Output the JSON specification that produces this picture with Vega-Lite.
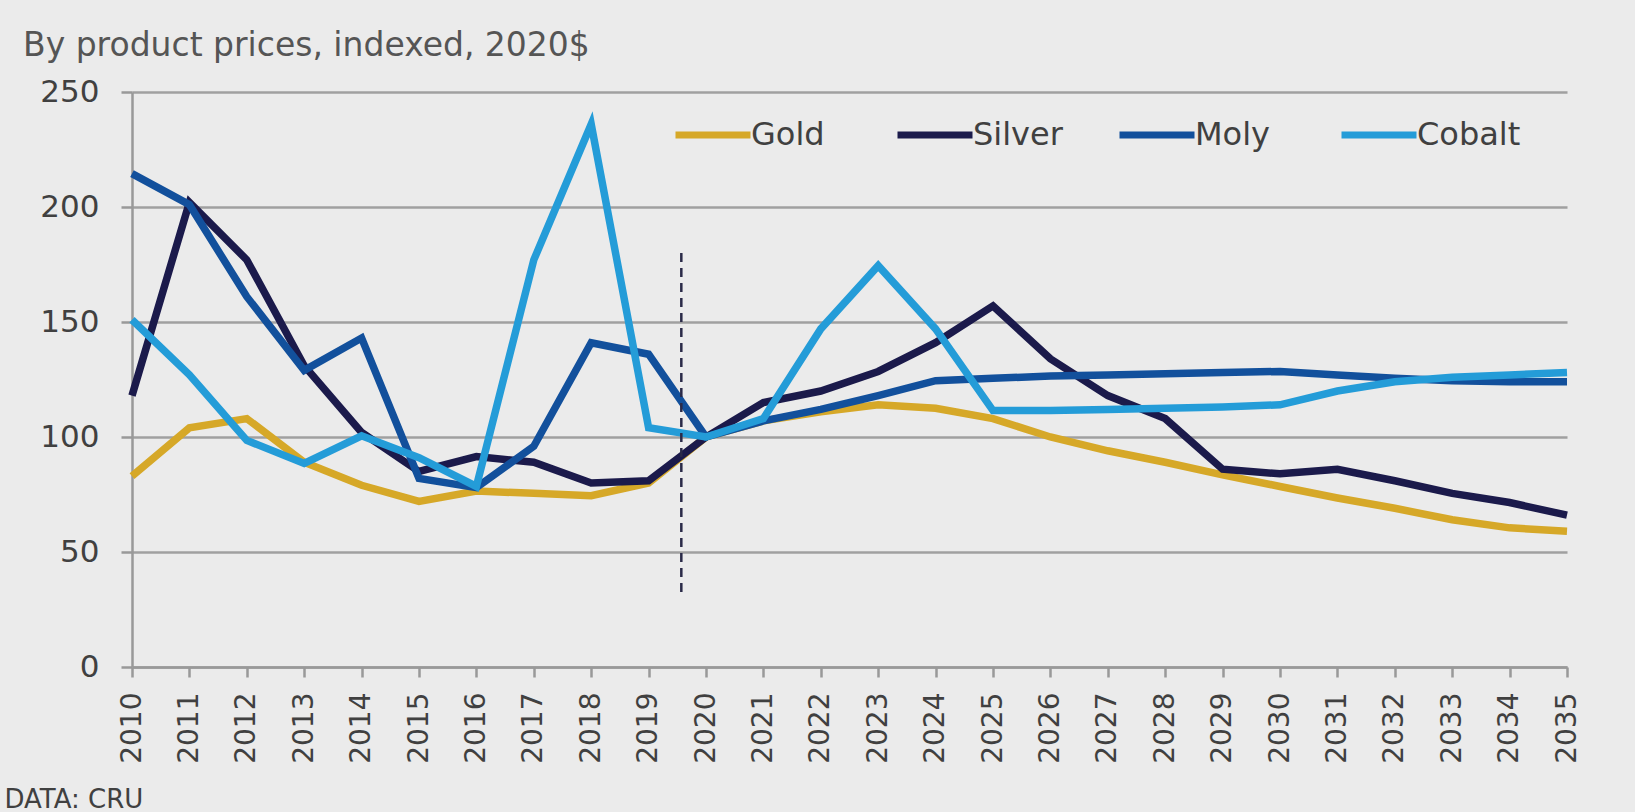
{
  "$schema": "https://vega.github.io/schema/vega-lite/v6.json",
  "width": 1435,
  "height": 575,
  "autosize": {"type": "none"},
  "padding": {"left": 132, "top": 92, "right": 68, "bottom": 145},
  "background": "#ebebeb",
  "title": {
    "text": "By product prices, indexed, 2020$",
    "anchor": "start",
    "frame": "group",
    "dx": -109,
    "offset": -13,
    "baseline": "alphabetic",
    "font": "DejaVu Sans",
    "fontSize": 33,
    "fontWeight": "normal",
    "color": "#555555"
  },
  "config": {
    "view": {"stroke": null},
    "font": "DejaVu Sans"
  },
  "datasets": {
    "prices": [
      {"year": 2010, "metal": "Gold", "value": 83},
      {"year": 2011, "metal": "Gold", "value": 104},
      {"year": 2012, "metal": "Gold", "value": 108},
      {"year": 2013, "metal": "Gold", "value": 89},
      {"year": 2014, "metal": "Gold", "value": 79},
      {"year": 2015, "metal": "Gold", "value": 72},
      {"year": 2016, "metal": "Gold", "value": 76.5},
      {"year": 2017, "metal": "Gold", "value": 75.5},
      {"year": 2018, "metal": "Gold", "value": 74.5},
      {"year": 2019, "metal": "Gold", "value": 80},
      {"year": 2020, "metal": "Gold", "value": 100},
      {"year": 2021, "metal": "Gold", "value": 107},
      {"year": 2022, "metal": "Gold", "value": 111},
      {"year": 2023, "metal": "Gold", "value": 114},
      {"year": 2024, "metal": "Gold", "value": 112.5},
      {"year": 2025, "metal": "Gold", "value": 108},
      {"year": 2026, "metal": "Gold", "value": 100},
      {"year": 2027, "metal": "Gold", "value": 94},
      {"year": 2028, "metal": "Gold", "value": 89},
      {"year": 2029, "metal": "Gold", "value": 83.5},
      {"year": 2030, "metal": "Gold", "value": 78.5},
      {"year": 2031, "metal": "Gold", "value": 73.5},
      {"year": 2032, "metal": "Gold", "value": 69},
      {"year": 2033, "metal": "Gold", "value": 64},
      {"year": 2034, "metal": "Gold", "value": 60.5},
      {"year": 2035, "metal": "Gold", "value": 59},
      {"year": 2010, "metal": "Silver", "value": 118},
      {"year": 2011, "metal": "Silver", "value": 202},
      {"year": 2012, "metal": "Silver", "value": 177},
      {"year": 2013, "metal": "Silver", "value": 131},
      {"year": 2014, "metal": "Silver", "value": 102},
      {"year": 2015, "metal": "Silver", "value": 85},
      {"year": 2016, "metal": "Silver", "value": 91.5},
      {"year": 2017, "metal": "Silver", "value": 89},
      {"year": 2018, "metal": "Silver", "value": 80},
      {"year": 2019, "metal": "Silver", "value": 81},
      {"year": 2020, "metal": "Silver", "value": 100},
      {"year": 2021, "metal": "Silver", "value": 115},
      {"year": 2022, "metal": "Silver", "value": 120},
      {"year": 2023, "metal": "Silver", "value": 128.5},
      {"year": 2024, "metal": "Silver", "value": 141},
      {"year": 2025, "metal": "Silver", "value": 157},
      {"year": 2026, "metal": "Silver", "value": 134},
      {"year": 2027, "metal": "Silver", "value": 118},
      {"year": 2028, "metal": "Silver", "value": 108},
      {"year": 2029, "metal": "Silver", "value": 86},
      {"year": 2030, "metal": "Silver", "value": 84},
      {"year": 2031, "metal": "Silver", "value": 86},
      {"year": 2032, "metal": "Silver", "value": 81},
      {"year": 2033, "metal": "Silver", "value": 75.5},
      {"year": 2034, "metal": "Silver", "value": 71.5},
      {"year": 2035, "metal": "Silver", "value": 66},
      {"year": 2010, "metal": "Moly", "value": 214.5},
      {"year": 2011, "metal": "Moly", "value": 201},
      {"year": 2012, "metal": "Moly", "value": 161},
      {"year": 2013, "metal": "Moly", "value": 129},
      {"year": 2014, "metal": "Moly", "value": 143},
      {"year": 2015, "metal": "Moly", "value": 82},
      {"year": 2016, "metal": "Moly", "value": 78},
      {"year": 2017, "metal": "Moly", "value": 96},
      {"year": 2018, "metal": "Moly", "value": 141},
      {"year": 2019, "metal": "Moly", "value": 136},
      {"year": 2020, "metal": "Moly", "value": 100},
      {"year": 2021, "metal": "Moly", "value": 107},
      {"year": 2022, "metal": "Moly", "value": 112},
      {"year": 2023, "metal": "Moly", "value": 118},
      {"year": 2024, "metal": "Moly", "value": 124.5},
      {"year": 2025, "metal": "Moly", "value": 125.5},
      {"year": 2026, "metal": "Moly", "value": 126.5},
      {"year": 2027, "metal": "Moly", "value": 127},
      {"year": 2028, "metal": "Moly", "value": 127.5},
      {"year": 2029, "metal": "Moly", "value": 128},
      {"year": 2030, "metal": "Moly", "value": 128.5},
      {"year": 2031, "metal": "Moly", "value": 127},
      {"year": 2032, "metal": "Moly", "value": 125.5},
      {"year": 2033, "metal": "Moly", "value": 124.5},
      {"year": 2034, "metal": "Moly", "value": 124},
      {"year": 2035, "metal": "Moly", "value": 124},
      {"year": 2010, "metal": "Cobalt", "value": 151},
      {"year": 2011, "metal": "Cobalt", "value": 127},
      {"year": 2012, "metal": "Cobalt", "value": 98.5},
      {"year": 2013, "metal": "Cobalt", "value": 88.5},
      {"year": 2014, "metal": "Cobalt", "value": 100.5},
      {"year": 2015, "metal": "Cobalt", "value": 91},
      {"year": 2016, "metal": "Cobalt", "value": 78.5},
      {"year": 2017, "metal": "Cobalt", "value": 177},
      {"year": 2018, "metal": "Cobalt", "value": 236},
      {"year": 2019, "metal": "Cobalt", "value": 104},
      {"year": 2020, "metal": "Cobalt", "value": 100},
      {"year": 2021, "metal": "Cobalt", "value": 108},
      {"year": 2022, "metal": "Cobalt", "value": 147},
      {"year": 2023, "metal": "Cobalt", "value": 174.5},
      {"year": 2024, "metal": "Cobalt", "value": 147},
      {"year": 2025, "metal": "Cobalt", "value": 111.5},
      {"year": 2026, "metal": "Cobalt", "value": 111.5},
      {"year": 2027, "metal": "Cobalt", "value": 112},
      {"year": 2028, "metal": "Cobalt", "value": 112.5},
      {"year": 2029, "metal": "Cobalt", "value": 113},
      {"year": 2030, "metal": "Cobalt", "value": 114},
      {"year": 2031, "metal": "Cobalt", "value": 120},
      {"year": 2032, "metal": "Cobalt", "value": 124},
      {"year": 2033, "metal": "Cobalt", "value": 126},
      {"year": 2034, "metal": "Cobalt", "value": 127},
      {"year": 2035, "metal": "Cobalt", "value": 128}
    ],
    "divider": [
      {"year": 2019.57, "top": 180, "bottom": 30}
    ]
  },
  "layer": [
    {
      "data": {"name": "prices"},
      "mark": {"type": "line", "strokeWidth": 7.5, "strokeJoin": "miter", "strokeCap": "butt"},
      "encoding": {
        "x": {
          "field": "year",
          "type": "quantitative",
          "scale": {"domain": [2010, 2035], "nice": false, "zero": false},
          "axis": {
            "values": [2010, 2011, 2012, 2013, 2014, 2015, 2016, 2017, 2018, 2019, 2020, 2021, 2022, 2023, 2024, 2025, 2026, 2027, 2028, 2029, 2030, 2031, 2032, 2033, 2034, 2035],
            "format": "d",
            "labelAngle": 270,
            "labelFont": "DejaVu Sans",
            "labelFontSize": 28,
            "labelColor": "#404040",
            "labelPadding": 15,
            "labelOverlap": false,
            "labelFlush": false,
            "tickSize": 10,
            "tickColor": "#999999",
            "tickWidth": 2.5,
            "domainColor": "#999999",
            "domainWidth": 2.5,
            "grid": false,
            "title": "DATA: CRU",
            "titleFont": "DejaVu Sans",
            "titleFontSize": 26,
            "titleFontWeight": "normal",
            "titleColor": "#404040",
            "titleAnchor": "start",
            "titleAlign": "left",
            "titleBaseline": "alphabetic",
            "titleX": -128,
            "titleY": 140
          }
        },
        "y": {
          "field": "value",
          "type": "quantitative",
          "scale": {"domain": [0, 250], "nice": false},
          "axis": {
            "values": [0, 50, 100, 150, 200, 250],
            "labelFont": "DejaVu Sans",
            "labelFontSize": 31,
            "labelColor": "#404040",
            "labelPadding": 22,
            "tickSize": 11,
            "tickColor": "#999999",
            "tickWidth": 2.5,
            "domainColor": "#999999",
            "domainWidth": 2.5,
            "gridColor": "#a0a0a0",
            "gridWidth": 2.5,
            "title": null
          }
        },
        "color": {
          "field": "metal",
          "type": "nominal",
          "sort": ["Gold", "Silver", "Moly", "Cobalt"],
          "scale": {
            "domain": ["Gold", "Silver", "Moly", "Cobalt"],
            "range": ["#d6a828", "#1b1a4b", "#12509c", "#249cd8"]
          },
          "legend": {
            "title": null,
            "orient": "none",
            "direction": "horizontal",
            "legendX": 540,
            "legendY": 2,
            "padding": 0,
            "symbolType": "stroke",
            "symbolSize": 5625,
            "symbolStrokeWidth": 7,
            "labelFont": "DejaVu Sans",
            "labelFontSize": 32,
            "labelColor": "#404040",
            "labelOffset": -3,
            "columnPadding": 28,
            "gridAlign": "all"
          }
        }
      }
    },
    {
      "data": {"name": "divider"},
      "mark": {"type": "rule", "color": "#2a2a48", "strokeWidth": 2.5, "strokeDash": [9, 6]},
      "encoding": {
        "x": {"field": "year", "type": "quantitative"},
        "y": {"field": "top", "type": "quantitative"},
        "y2": {"field": "bottom"}
      }
    }
  ]
}
